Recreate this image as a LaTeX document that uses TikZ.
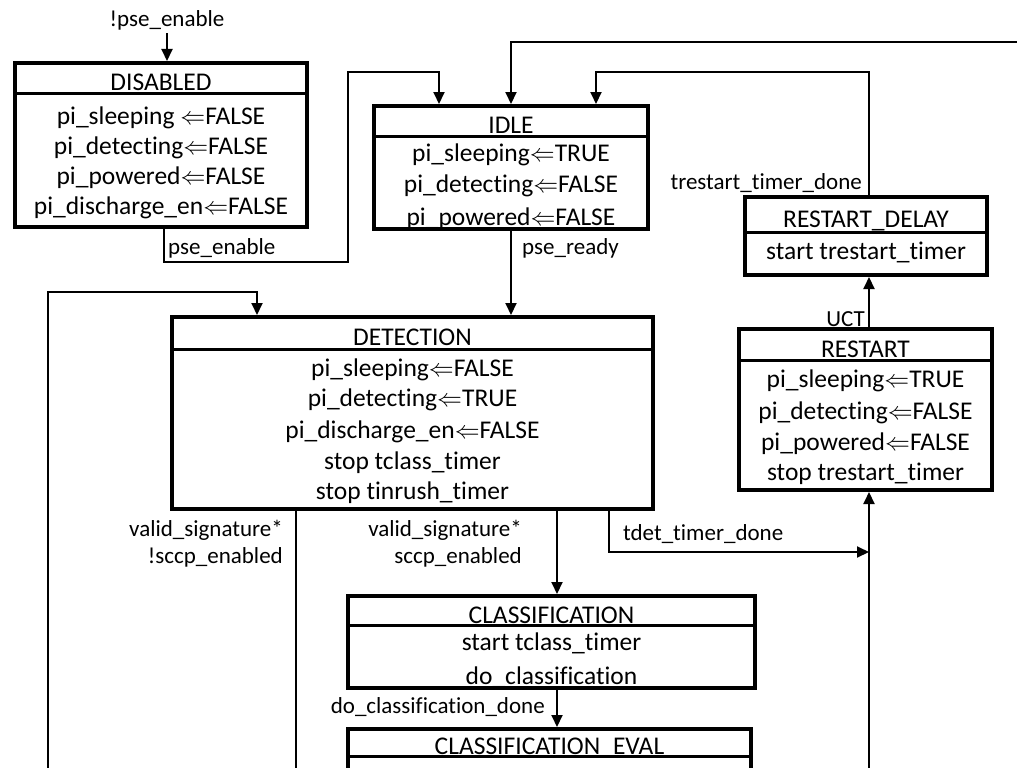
\documentclass[tikz,border=0pt]{standalone}
\usepackage{fontspec}
\setmainfont{Carlito}[Ligatures={NoCommon}]
\usepackage{tikz}
\usetikzlibrary{positioning,calc,fit,arrows.meta}
\tikzset{
  statebox/.style = {draw=black, line width=4pt, inner sep=0pt},
  hdrline/.style  = {draw=black, line width=3pt},
  stext/.style    = {font=\fontsize{25.5}{31}\selectfont, inner sep=0pt, text height=20pt, text depth=5pt},
  lbl/.style      = {font=\fontsize{23}{27}\selectfont, inner sep=2pt, text height=18pt, text depth=4.6pt},
  lblm/.style     = {font=\fontsize{23}{27}\selectfont, inner sep=2pt, align=right},
  wire/.style     = {draw=black, line width=2pt},
  arr/.style      = {wire, -{Triangle[length=12pt,width=11pt]}},
}
% name, left, top, right, header line, bottom, title, body lines (text/y)
\newcommand{\fsmstate}[8]{%
  \node[statebox, fit={(#2,#3) (#4,#6)}] (#1) {};
  \draw[hdrline] (#2,#5) -- (#4,#5);
  \node[stext] (#1-title) at ({(#2+#4)/2},{(#3+#5)/2+5}) {#7};
  \foreach \txt/\y [count=\i] in {#8} {
    \node[stext] (#1-\i) at ({(#2+#4)/2},\y) {\txt};
  }%
}

\begin{document}
\begin{tikzpicture}[x=1pt,y=-1pt]
  \useasboundingbox (0,0) rectangle (1017,768);

  % states
  \fsmstate{disabled}{15}{63}{307}{93}{227}{DISABLED}{%
    pi\_sleeping $\Leftarrow$FALSE/117, pi\_detecting$\Leftarrow$FALSE/147,
    pi\_powered$\Leftarrow$FALSE/177, pi\_discharge\_en$\Leftarrow$FALSE/207}
  \fsmstate{idle}{374}{106}{648}{136}{229}{IDLE}{%
    pi\_sleeping$\Leftarrow$TRUE/154, pi\_detecting$\Leftarrow$FALSE/185,
    pi\_powered$\Leftarrow$FALSE/218}
  \fsmstate{rdelay}{745}{197}{987}{232}{275}{RESTART\_DELAY}{%
    start trestart\_timer/252}
  \fsmstate{detection}{172}{317}{653}{349}{509}{DETECTION}{%
    pi\_sleeping$\Leftarrow$FALSE/369, pi\_detecting$\Leftarrow$TRUE/399,
    pi\_discharge\_en$\Leftarrow$FALSE/431, stop tclass\_timer/462,
    stop tinrush\_timer/492}
  \fsmstate{restart}{739}{329}{992}{360}{490}{RESTART}{%
    pi\_sleeping$\Leftarrow$TRUE/380, pi\_detecting$\Leftarrow$FALSE/412,
    pi\_powered$\Leftarrow$FALSE/443, stop trestart\_timer/473}
  \fsmstate{classification}{348}{596}{755}{625}{688}{CLASSIFICATION}{%
    start tclass\_timer/643, do\_classification/677}
  \node[statebox, fit={(348,729) (751,800)}] (ceval) {};
  \draw[hdrline] (348,756) -- (751,756);
  \node[stext] (ceval-title) at (549.5,747) {CLASSIFICATION\_EVAL};

  % free ends
  \coordinate (topin) at (1017,42);
  \coordinate (loopin) at (48,768);
  \coordinate (sigout) at (296,768);
  \coordinate (lowin) at (869,768);
  \coordinate (tdetin) at (869,552);

  % labels
  \node[lbl] (notenable) at (167,20) {!pse\_enable};
  \node[lbl, anchor=west] (enable) at (166,248) {pse\_enable};
  \node[lbl, anchor=west] (ready) at (520,248) {pse\_ready};
  \node[lbl, anchor=east] (rdone) at (864,183) {trestart\_timer\_done};
  \node[lbl, anchor=east] (uct) at (867,320) {UCT};
  \node[lbl, anchor=west] (tdet) at (621,534) {tdet\_timer\_done};
  \node[lbl, anchor=east] (cdone) at (547,707) {do\_classification\_done};
  \node[lblm, anchor=east] (sigoff) at (285,544) {valid\_signature*\\!sccp\_enabled};
  \node[lblm, anchor=east] (sigon) at (524,544) {valid\_signature*\\sccp\_enabled};

  % transitions
  \draw[arr] (notenable) -- (notenable |- disabled.north);
  \draw[arr] ([xshift=3pt]disabled.south) |- (348,262) |- (439,72) -- ([xshift=-72pt]idle.north);
  \draw[arr] (topin) -| (idle.north);
  \draw[arr] ([xshift=3pt]rdelay.north) |- (596,72) -- ([xshift=85pt]idle.north);
  \draw[arr] (idle.south) -- (idle.south |- detection.north);
  \draw[arr] (loopin) |- (257,292) -- ([xshift=-155.5pt]detection.north);
  \draw[wire] ([xshift=-116.5pt]detection.south) -- (sigout);
  \draw[arr] ([xshift=144.5pt]detection.south) -- ([xshift=5.5pt]classification.north);
  \draw[arr] ([xshift=5.5pt]classification.south) -- ([xshift=7.5pt]ceval.north);
  \draw[arr] ([xshift=196.5pt]detection.south) |- (tdetin);
  \draw[arr] (lowin) -- ([xshift=3.5pt]restart.south);
  \draw[arr] ([xshift=3.5pt]restart.north) -- ([xshift=3pt]rdelay.south);
\end{tikzpicture}
\end{document}
